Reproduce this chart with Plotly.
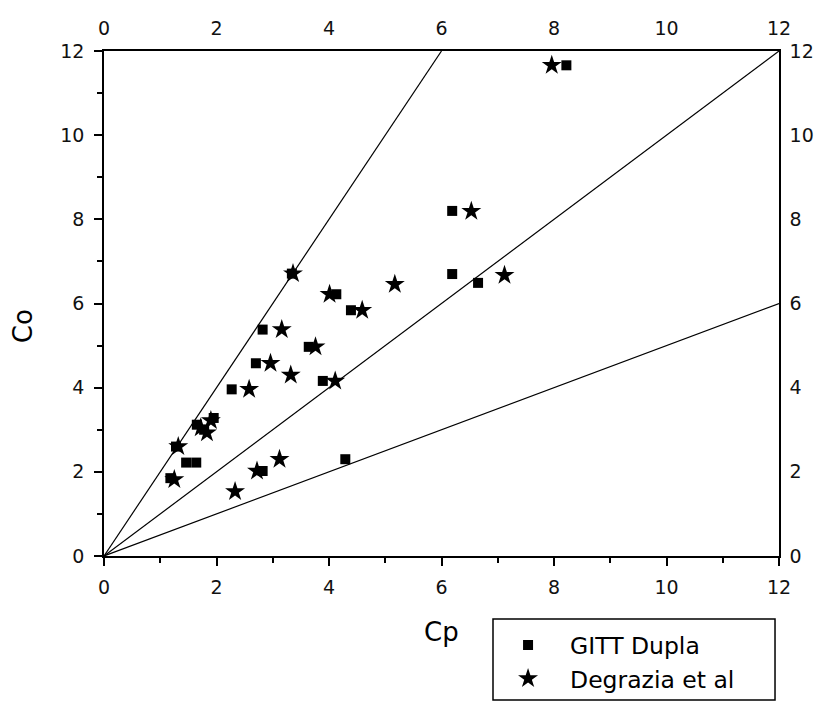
import plotly.graph_objects as go

# GITT Dupla measurements (Cp, Co)
gitt_cp = [8.22, 6.19, 6.19, 6.65, 4.13, 4.39, 3.34, 2.82, 3.64, 2.70, 3.89,
           2.27, 4.29, 2.82, 1.65, 1.78, 1.95, 1.46, 1.64, 1.18, 1.28]
gitt_co = [11.66, 8.20, 6.70, 6.49, 6.22, 5.84, 6.71, 5.38, 4.97, 4.58, 4.16,
           3.96, 2.30, 2.02, 3.12, 3.00, 3.28, 2.22, 2.22, 1.85, 2.60]

# Degrazia et al values (Cp, Co)
deg_cp = [7.96, 6.53, 7.12, 5.17, 4.01, 4.59, 3.36, 3.16, 3.76, 2.96, 3.32,
          4.11, 2.58, 3.12, 2.72, 2.33, 1.72, 1.83, 1.90, 1.32, 1.25]
deg_co = [11.66, 8.19, 6.67, 6.46, 6.22, 5.84, 6.71, 5.38, 4.97, 4.58, 4.30,
          4.16, 3.96, 2.30, 2.02, 1.53, 3.05, 2.93, 3.22, 2.60, 1.82]

# Reference lines Co = k * Cp, drawn up to the frame edge
slopes = [2.0, 1.0, 0.5]
x_max = 12.0
tick_vals = [0, 2, 4, 6, 8, 10, 12]

FONT = "DejaVu Sans, sans-serif"

fig = go.Figure()

for k in slopes:
    x_end = min(x_max, x_max / k)
    fig.add_trace(go.Scatter(
        x=[0, x_end], y=[0, k * x_end], mode="lines",
        line=dict(color="black", width=1.2), showlegend=False, hoverinfo="skip"))

fig.add_trace(go.Scatter(
    x=gitt_cp, y=gitt_co, mode="markers", name="GITT Dupla",
    marker=dict(symbol="square", size=10, color="black")))
fig.add_trace(go.Scatter(
    x=deg_cp, y=deg_co, mode="markers", name="Degrazia et al",
    marker=dict(symbol="star", size=15, color="black")))

# Invisible trace carrying the top/right axes
fig.add_trace(go.Scatter(x=[0, 12], y=[0, 12], xaxis="x2", yaxis="y2",
                         mode="markers", marker=dict(opacity=0),
                         showlegend=False, hoverinfo="skip"))

axis_common = dict(range=[0, 12], tickvals=tick_vals, showgrid=False,
                   zeroline=False, showline=True, linecolor="black",
                   linewidth=1.5, tickfont=dict(family=FONT, size=19, color="#111"))

fig.update_layout(
    width=820, height=704,
    margin=dict(l=104, r=41, t=51, b=148, autoexpand=False),
    paper_bgcolor="white", plot_bgcolor="white",
    font=dict(family=FONT, color="black"),
    xaxis=dict(**axis_common, ticks="outside", ticklen=8, tickwidth=1.5,
               tickcolor="black", ticklabelstandoff=5,
               minor=dict(dtick=1, ticks="outside", ticklen=5, tickwidth=1.5,
                          tickcolor="black")),
    yaxis=dict(**axis_common, ticks="outside", ticklen=8, tickwidth=1.5,
               tickcolor="black", ticklabelstandoff=6,
               minor=dict(dtick=1, ticks="outside", ticklen=5, tickwidth=1.5,
                          tickcolor="black")),
    xaxis2=dict(**axis_common, overlaying="x", side="top", anchor="y",
                ticks="", ticklabelstandoff=7),
    yaxis2=dict(**axis_common, overlaying="y", side="right", anchor="x",
                ticks="", ticklabelstandoff=5),
    legend=dict(x=0.566, y=-0.133, xanchor="left", yanchor="top",
                bgcolor="rgba(0,0,0,0)", borderwidth=0, itemwidth=74,
                font=dict(family=FONT, size=23.5, color="black"),
                tracegroupgap=0),
    shapes=[dict(type="rect", xref="paper", yref="paper",
                 x0=0.5763, x1=0.9941, y0=-0.2851, y1=-0.1248,
                 line=dict(color="black", width=1.5))],
    annotations=[
        dict(text="Cp", xref="paper", yref="paper", x=0.5, y=-0.150,
             xanchor="center", yanchor="middle", showarrow=False,
             font=dict(family=FONT, size=26, color="black")),
        dict(text="Co", xref="paper", yref="paper", x=-0.12, y=0.455,
             xanchor="center", yanchor="middle", showarrow=False, textangle=-90,
             font=dict(family=FONT, size=26, color="black")),
    ],
)

fig.write_html("out.html")
